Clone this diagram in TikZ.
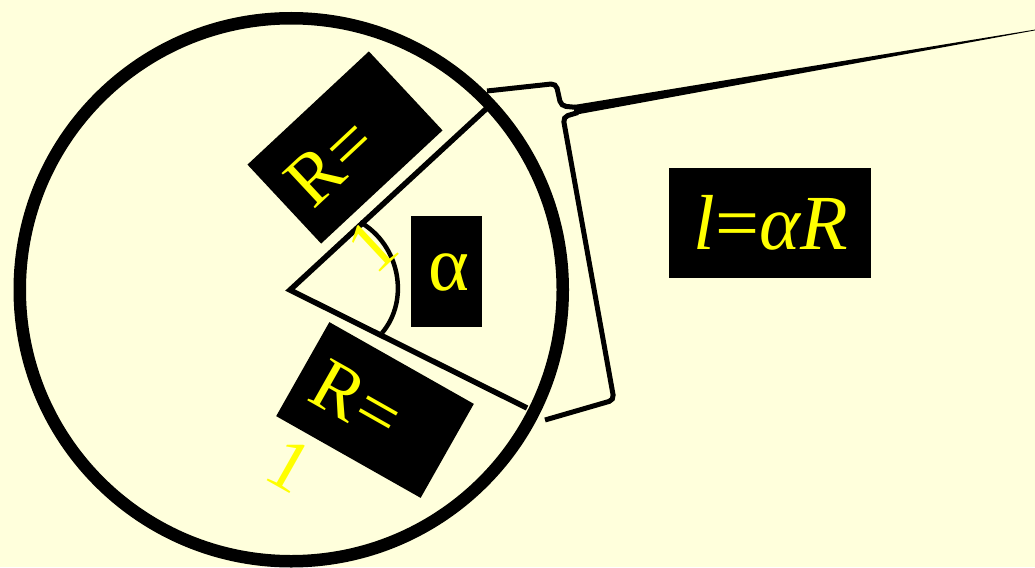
\documentclass[tikz,border=0pt]{standalone}
\usepackage{fontspec}
\setmainfont{Liberation Serif}
\definecolor{bg}{HTML}{FFFFDC}
\definecolor{yel}{HTML}{FFFF00}
\begin{document}
\begin{tikzpicture}[x=1pt,y=-1pt,
  blk/.style={fill=black, draw=none, inner sep=0pt},
  ytext/.style={text=yel, inner sep=0pt, font=\fontsize{74}{88}\selectfont},
  radline/.style={line width=5.5pt, line join=miter},
  bracestroke/.style={line width=5pt, rounded corners=5pt},
]
\fill[bg] (0,0) rectangle (1035,567);
\useasboundingbox (0,0) rectangle (1035,567);

% circle
\coordinate (C) at (291.25,289.75);
\draw[line width=12.5pt] (C) circle[radius=271.5pt];

% sector
\coordinate (O) at (290,290);
\coordinate (P1) at (486,109);
\coordinate (P2) at (527,408);
\draw[radline] (P1) -- (O) -- (P2);

% angle arc
\coordinate (A1) at (360,222);
\coordinate (A2) at (382,333);
\draw[line width=4.5pt] (A1) .. controls (400,245) and (410,300) .. (A2);

% brace with long tail
\draw[bracestroke] (487,91) -- (556,83.5) -- (561,106) -- (578,107.5);
\draw[bracestroke] (578,112.5) -- (563,117) -- (614,400) -- (545,420);
\coordinate (T) at (1035,30);
\fill (574,105) -- (1035,29.6) -- (1035,30.4) -- (574,115) -- cycle;

% upper R=1 label
\node[blk, minimum width=166pt, minimum height=108pt, rotate=43] (boxA) at (345,147.5) {};
\begin{scope}[shift={(345,147.5)}, rotate=43, transform shape]
  \node[ytext, anchor=base west] (ra) at (-66,25) {R=};
  \node[ytext, anchor=base west] (oa) at (-66,115) {1};
\end{scope}

% lower R=1 label
\node[blk, minimum width=166pt, minimum height=108pt, rotate=-29.5] (boxB) at (375,410) {};
\begin{scope}[shift={(375,410)}, rotate=-29.5, transform shape]
  \node[ytext, anchor=base west] (rb) at (-66,25) {R=};
  \node[ytext, anchor=base west] (ob) at (-66,115) {1};
\end{scope}

% alpha box
\node[blk, minimum width=71pt, minimum height=111pt] (boxal) at (446.5,271.5) {};
\node[ytext, font=\fontsize{78}{92}\selectfont] (al) at (448.5,272) {α};

% formula box
\node[blk, minimum width=202pt, minimum height=110pt] (boxf) at (770,223) {};
\node[ytext, font=\fontsize{78}{92}\selectfont] (fl) at (771,223) {\textit{l}=\textit{αR}};
\end{tikzpicture}
\end{document}
